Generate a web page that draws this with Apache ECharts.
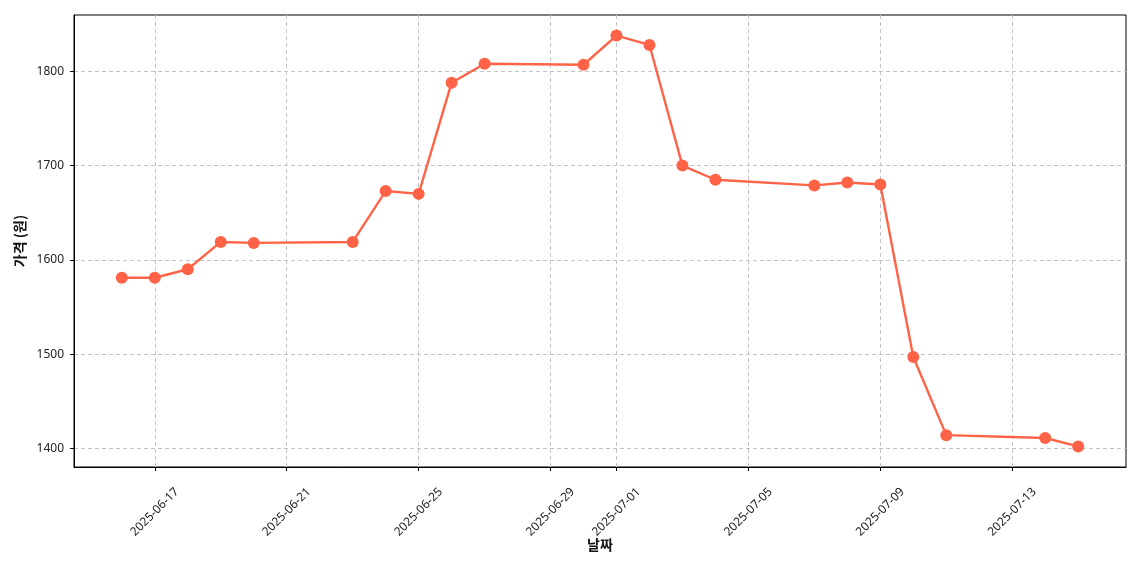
<!DOCTYPE html>
<html>
<head>
<meta charset="utf-8">
<script src="https://cdn.jsdelivr.net/npm/echarts@6/dist/echarts.min.js"></script>
<style>
html,body{margin:0;padding:0;background:#fff;}
#c{width:1140px;height:570px;}
</style>
</head>
<body>
<div id="c"></div>
<script>
// ---- data ----
const dates = ['2025-06-16','2025-06-17','2025-06-18','2025-06-19','2025-06-20','2025-06-23','2025-06-24','2025-06-25','2025-06-26','2025-06-27','2025-06-30','2025-07-01','2025-07-02','2025-07-03','2025-07-04','2025-07-07','2025-07-08','2025-07-09','2025-07-10','2025-07-11','2025-07-14','2025-07-15'];
const prices = [1581,1581,1590,1619,1618,1619,1673,1670,1788,1808,1807,1838,1828,1700,1685,1679,1682,1680,1497,1414,1411,1402];
const xTickLabels = ['2025-06-17','2025-06-21','2025-06-25','2025-06-29','2025-07-01','2025-07-05','2025-07-09','2025-07-13'];
const yTickValues = [1400,1500,1600,1700,1800];
const xLabel = '날짜';
const yLabel = '가격 (원)';

// day number (days since 1970-01-01 UTC)
function dayNum(s){ const p = s.split('-').map(Number); return Date.UTC(p[0], p[1]-1, p[2]) / 86400000; }
function fmt(v){ const d = new Date(Math.round(v) * 86400000); const m = String(d.getUTCMonth()+1).padStart(2,'0'); const dd = String(d.getUTCDate()).padStart(2,'0'); return d.getUTCFullYear()+'-'+m+'-'+dd; }

const xs = dates.map(dayNum);
const xSpan = xs[xs.length-1] - xs[0];
const xMin = xs[0] - xSpan*0.05, xMax = xs[xs.length-1] + xSpan*0.05;
const yLo = Math.min(...prices), yHi = Math.max(...prices);
const ySpan = yHi - yLo;
const yMin = yLo - ySpan*0.05, yMax = yHi + ySpan*0.05;
const xTickVals = xTickLabels.map(dayNum);

const chart = echarts.init(document.getElementById('c'), null, {renderer:'canvas'});
const tickFont = {fontFamily:'"Noto Sans", "Noto Sans CJK KR", sans-serif', fontSize:12, color:'#222'};
chart.setOption({
  animation:false,
  backgroundColor:'#fff',
  grid:{left:74, right:14, top:15, bottom:103, show:true, borderColor:'#000', borderWidth:1, backgroundColor:'transparent'},
  xAxis:{
    type:'value', min:xMin, max:xMax,
    name:xLabel, nameLocation:'middle', nameGap:71, nameMoveOverlap:false,
    nameTextStyle:{fontFamily:'"Noto Sans CJK KR", sans-serif', fontSize:14, fontWeight:'bold', color:'#111'},
    axisLine:{show:true, onZero:false, lineStyle:{color:'#000', width:1}},
    axisTick:{show:true, inside:false, length:4, lineStyle:{color:'#000'}, customValues:xTickVals},
    axisLabel:Object.assign({customValues:xTickVals, rotate:45, margin:45, align:'center', verticalAlign:'middle', formatter:function(v){return fmt(v);}, hideOverlap:false}, tickFont),
    splitLine:{show:true, lineStyle:{color:'#c4c4c4', type:[4,3], width:1}}
  },
  yAxis:{
    type:'value', min:yMin, max:yMax,
    name:yLabel, nameLocation:'middle', nameGap:47, nameRotate:90, nameMoveOverlap:false,
    nameTextStyle:{fontFamily:'"Noto Sans CJK KR", sans-serif', fontSize:14, fontWeight:'bold', color:'#111'},
    axisLine:{show:true, onZero:false, lineStyle:{color:'#000', width:1}},
    axisTick:{show:true, length:4, lineStyle:{color:'#000'}, customValues:yTickValues},
    axisLabel:Object.assign({customValues:yTickValues, margin:10, formatter:function(v){return String(v);}}, tickFont),
    splitLine:{show:true, lineStyle:{color:'#c4c4c4', type:[4,3], width:1}}
  },
  series:[{
    type:'line',
    data:xs.map((x,i)=>[x, prices[i]]),
    symbol:'circle', symbolSize:12,
    lineStyle:{color:'#FF6347', width:2.4},
    itemStyle:{color:'#FF6347'},
    showAllSymbol:true
  }]
});
</script>
</body>
</html>
